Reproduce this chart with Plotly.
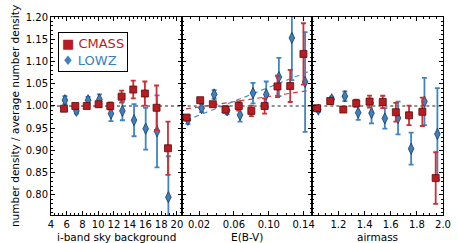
import plotly.graph_objects as go
from plotly.subplots import make_subplots

# ---------------- data ----------------
# Panel 1: i-band sky background
sky_cmass_x = [5.65, 7.09, 8.54, 10.05, 11.53, 12.97, 14.45, 15.93, 17.41, 18.86]
sky_cmass_y = [0.994, 1.000, 1.000, 1.004, 1.000, 1.021, 1.037, 1.028, 0.996, 0.905]
sky_cmass_e = [0.004, 0.004, 0.004, 0.006, 0.008, 0.0135, 0.020, 0.027, 0.050, 0.060]
sky_lowz_x = [5.77, 7.23, 8.71, 10.15, 11.62, 13.07, 14.55, 16.03, 17.47, 18.91]
sky_lowz_y = [1.013, 0.989, 1.013, 1.015, 0.983, 0.989, 0.968, 0.949, 0.943, 0.795]
sky_lowz_e = [0.009, 0.006, 0.0075, 0.011, 0.017, 0.021, 0.036, 0.047, 0.081, 0.092]

# Panel 2: E(B-V)
ebv_cmass_x = [0.0057, 0.0213, 0.0358, 0.0503, 0.0655, 0.0800, 0.0952, 0.1100, 0.1246, 0.1398]
ebv_cmass_y = [0.974, 1.013, 1.004, 0.992, 1.000, 0.989, 1.000, 1.044, 1.045, 1.117]
ebv_cmass_e = [0.006, 0.005, 0.005, 0.0075, 0.0105, 0.012, 0.017, 0.024, 0.036, 0.069]
ebv_lowz_x = [0.0072, 0.0229, 0.0373, 0.0522, 0.0670, 0.0819, 0.0971, 0.1116, 0.1265, 0.1417]
ebv_lowz_y = [0.969, 0.995, 1.026, 0.990, 0.980, 1.029, 1.026, 1.065, 1.153, 1.054]
ebv_lowz_e = [0.009, 0.009, 0.0097, 0.009, 0.015, 0.023, 0.029, 0.043, 0.095, 0.112]
# linear fits (end points)
ebv_fit_x = [0.005, 0.145]
ebv_fit_cmass_y = [0.9935, 1.0345]
ebv_fit_lowz_y = [0.9675, 1.077]

# Panel 3: airmass
air_cmass_x = [1.036, 1.137, 1.237, 1.336, 1.438, 1.539, 1.639, 1.740, 1.842, 1.944]
air_cmass_y = [0.995, 1.011, 0.992, 1.006, 1.010, 1.009, 0.986, 0.979, 0.987, 0.838]
air_cmass_e = [0.004, 0.006, 0.004, 0.008, 0.0135, 0.014, 0.021, 0.022, 0.032, 0.058]
air_lowz_x = [1.046, 1.148, 1.249, 1.351, 1.453, 1.555, 1.656, 1.756, 1.858, 1.957]
air_lowz_y = [0.992, 1.015, 1.022, 0.985, 0.984, 0.972, 0.973, 0.904, 1.010, 0.937]
air_lowz_e = [0.005, 0.006, 0.011, 0.016, 0.023, 0.023, 0.037, 0.036, 0.053, 0.103]

ref_level = 1.0

# tick labels
sky_ticks = [4, 6, 8, 10, 12, 14, 16, 18, 20]
ebv_ticks = [0.02, 0.06, 0.10, 0.14]
air_ticks = [1.2, 1.4, 1.6, 1.8, 2.0]
y_ticks = [0.80, 0.85, 0.90, 0.95, 1.00, 1.05, 1.10, 1.15, 1.20]

x_titles = ["i-band sky background", "E(B-V)", "airmass"]
y_title = "number density / average number density"
names = ["CMASS", "LOWZ"]

# ---------------- style ----------------
RED = "#b81c22"
RED_EDGE = "#5a0c0c"
RED_ERR = "#cc3036"
BLUE = "#3d7fbf"
BLUE_EDGE = "#1c3a5a"
BLUE_ERR = "#3f85c4"
FONT = "DejaVu Sans"

fig = make_subplots(rows=1, cols=3, shared_yaxes=False, horizontal_spacing=0)

panels = [
    (sky_cmass_x, sky_cmass_y, sky_cmass_e, sky_lowz_x, sky_lowz_y, sky_lowz_e),
    (ebv_cmass_x, ebv_cmass_y, ebv_cmass_e, ebv_lowz_x, ebv_lowz_y, ebv_lowz_e),
    (air_cmass_x, air_cmass_y, air_cmass_e, air_lowz_x, air_lowz_y, air_lowz_e),
]

# fit lines in panel 2 (behind points)
fig.add_trace(go.Scatter(x=ebv_fit_x, y=ebv_fit_cmass_y, mode="lines",
                         line=dict(color="#d9363c", width=1.2, dash="5px,4px"),
                         showlegend=False, hoverinfo="skip"), row=1, col=2)
fig.add_trace(go.Scatter(x=ebv_fit_x, y=ebv_fit_lowz_y, mode="lines",
                         line=dict(color="#4a8ccc", width=1.2, dash="5px,4px"),
                         showlegend=False, hoverinfo="skip"), row=1, col=2)

for i, (cx, cy, ce, lx, ly, le) in enumerate(panels):
    col = i + 1
    fig.add_trace(go.Scatter(
        x=lx, y=ly, mode="markers", name=names[1],
        error_y=dict(type="data", array=le, color=BLUE_ERR, thickness=1.8, width=2.5),
        marker=dict(symbol="diamond-tall", size=8, color=BLUE,
                    line=dict(color=BLUE_EDGE, width=0.8)),
        showlegend=False), row=1, col=col)
    fig.add_trace(go.Scatter(
        x=cx, y=cy, mode="markers", name=names[0],
        error_y=dict(type="data", array=ce, color=RED_ERR, thickness=1.8, width=2.5),
        marker=dict(symbol="square", size=7, color=RED,
                    line=dict(color=RED_EDGE, width=0.8)),
        showlegend=False), row=1, col=col)

# reference line at 1.0 in each panel, and x-axis titles
for i in range(3):
    xr = "x domain" if i == 0 else f"x{i+1} domain"
    yr = "y" if i == 0 else f"y{i+1}"
    fig.add_shape(type="line", xref=xr, yref=yr, x0=0, x1=1, y0=ref_level, y1=ref_level,
                  line=dict(color="#222222", width=1.1, dash="dot"), layer="below")
    fig.add_annotation(xref=xr, yref="paper", x=0.5, y=-0.078, xanchor="center",
                       yanchor="top", text=x_titles[i], showarrow=False, borderpad=0,
                       font=dict(family=FONT, size=10.5, color="black"))

axis_common = dict(showgrid=False, zeroline=False, showline=True, linecolor="black",
                   linewidth=1, mirror="allticks", ticks="inside", ticklen=4,
                   tickwidth=1, tickcolor="black", automargin=False,
                   tickfont=dict(family=FONT, size=10, color="black"))

x_ranges = [[4, 20.6], [0.0, 0.15], [1.0, 2.0]]
x_tickvals = [sky_ticks, ebv_ticks, air_ticks]
x_fmt = ["d", ".2f", ".1f"]
x_minor = [0.5, 0.01, 0.05]
domains = [[0.0, 1 / 3], [1 / 3, 2 / 3], [2 / 3, 1.0]]

for i in range(3):
    fig.update_xaxes(axis_common, range=x_ranges[i], tickvals=x_tickvals[i],
                     ticktext=[format(v, x_fmt[i]) for v in x_tickvals[i]],
                     minor=dict(ticks="inside", ticklen=2, dtick=x_minor[i],
                                tick0=0, tickcolor="black", showgrid=False),
                     domain=domains[i],
                     row=1, col=i + 1)
    fig.update_yaxes(axis_common, range=[0.755, 1.2], tickvals=y_ticks,
                     ticktext=[f"{v:.2f}" for v in y_ticks],
                     showticklabels=(i == 0),
                     minor=dict(ticks="inside", ticklen=2, dtick=0.01, tick0=0,
                                tickcolor="black", showgrid=False),
                     row=1, col=i + 1)

fig.update_yaxes(title=dict(text=y_title, standoff=4,
                            font=dict(family=FONT, size=10.5, color="black")),
                 row=1, col=1)

# legend box
legend_text = (f"<span style='color:{RED}'>■</span> <span style='color:{RED}'>{names[0]}</span><br>"
               f"<span style='color:{BLUE}'>♦</span> <span style='color:{BLUE}'>{names[1]}</span>")
fig.add_annotation(xref="paper", yref="paper", x=0.018, y=0.925, xanchor="left",
                   yanchor="top", text=legend_text, showarrow=False, align="left",
                   font=dict(family=FONT, size=13, color="black"),
                   bordercolor="black", borderwidth=1, borderpad=3, bgcolor="white")

fig.update_layout(width=458, height=243, margin=dict(l=51, r=15, t=17, b=28),
                  paper_bgcolor="white", plot_bgcolor="white", showlegend=False,
                  font=dict(family=FONT, size=10, color="black"))

fig.write_html("out.html", config={"displayModeBar": False},
               post_script="document.body.style.margin='0px';document.body.style.overflow='hidden';")
